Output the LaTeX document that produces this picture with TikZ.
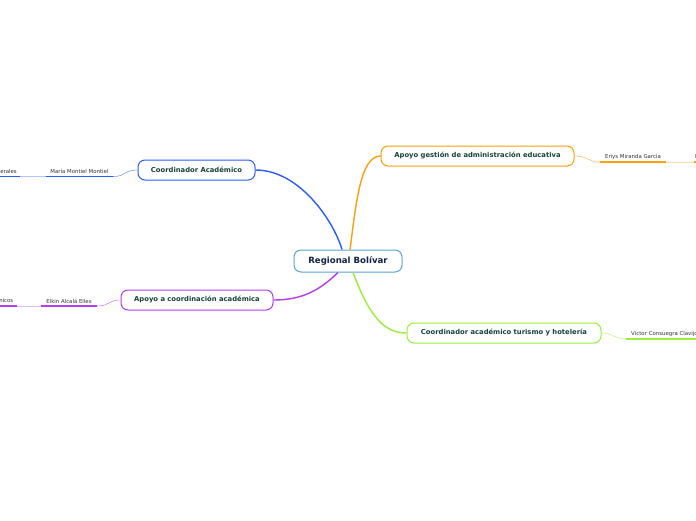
\documentclass[tikz,border=0pt]{standalone}
\usepackage{fontspec}
\setmainfont{DejaVu Sans}
\usetikzlibrary{calc}
\definecolor{cblue}{HTML}{2A5CFF}
\definecolor{corange}{HTML}{FF9F0A}
\definecolor{cpurple}{HTML}{B63CF2}
\definecolor{cgreen}{HTML}{9BEF3A}
\definecolor{ccentral}{HTML}{5BA4E0}
\definecolor{cnavy}{HTML}{12224A}
\definecolor{cteal}{HTML}{16433A}
\definecolor{cgray}{HTML}{333333}
\tikzset{
  central/.style={draw=ccentral, line width=1pt, rounded corners=7pt, fill=white,
    minimum width=108pt, minimum height=22pt, inner sep=0pt,
    font=\fontsize{8.6}{10}\selectfont\bfseries, text=cnavy},
  mainbox/.style={draw=#1, line width=1pt, rounded corners=7pt, fill=white,
    minimum height=20pt, inner sep=0pt,
    font=\fontsize{6.8}{8}\selectfont\bfseries, text=cteal},
  subtext/.style={inner sep=0pt, anchor=south, minimum height=9pt,
    font=\fontsize{5.4}{6}\selectfont, text=cgray},
  branch/.style={draw=#1, line width=1.4pt},
  twig/.style={draw=#1!60, line width=0.6pt},
  uline/.style={draw=#1, line width=1.4pt},
  faint/.style={draw=#1!35, line width=0.8pt}
}
\begin{document}
\begin{tikzpicture}[x=1pt,y=-1pt]
\useasboundingbox (0,0) rectangle (696,520);
\clip (0,0) rectangle (696,520);
\fill[white] (0,0) rectangle (696,520);

% main nodes
\node[central] (c) at (348,261) {Regional Bolívar};
\node[mainbox=cblue, minimum width=117pt] (ca) at (196.5,170) {Coordinador Académico};
\node[mainbox=cpurple, minimum width=152pt] (ac) at (197,300) {Apoyo a coordinación académica};
\node[mainbox=corange, minimum width=193pt] (ag) at (477.5,156) {Apoyo gestión de administración educativa};
\node[mainbox=cgreen, minimum width=194pt] (ct) at (504,333) {Coordinador académico turismo y hotelería};

% main connectors
\draw[branch=cblue] ([xshift=-6pt]c.north) .. controls (334,222) and (300,170) .. (ca.east);
\draw[branch=corange] ([xshift=2pt]c.north) .. controls (356,205) and (360,156) .. (ag.west);
\draw[branch=cpurple] ([xshift=-10pt]c.south) .. controls (318,292) and (300,300) .. (ac.east);
\draw[branch=cgreen] ([xshift=5pt]c.south) .. controls (370,318) and (385,333) .. (ct.west);

% sub nodes, left
\node[subtext, minimum width=67pt] (mm) at (79.5,176.5) {María Montiel Montiel};
\draw[uline=cblue] (mm.south west) -- (mm.south east);
\draw[twig=cblue] (ca.west) .. controls (124,170) and (126,176.5) .. (mm.south east);
\coordinate (dgs) at (-2,176.5);
\coordinate (dge) at (20,176.5);
\node[subtext, anchor=south east] (dg) at (17,176) {Docentes Generales};
\draw[uline=cblue] (dgs) -- (dge);
\draw[faint=cblue] (dge) -- (mm.south west);

\node[subtext, minimum width=56pt] (ea) at (69,306) {Elkin Alcalá Elles};
\draw[uline=cpurple] (ea.south west) -- (ea.south east);
\draw[twig=cpurple] (ac.west) .. controls (108,300) and (110,306) .. (ea.south east);
\coordinate (dts) at (-2,306);
\coordinate (dte) at (17,306);
\node[subtext, anchor=south east] (dt) at (13.5,305.5) {Docentes Técnicos};
\draw[uline=cpurple] (dts) -- (dte);
\draw[faint=cpurple] (dte) -- (ea.south west);

% sub nodes, right
\node[subtext, minimum width=66pt] (em) at (633,162) {Eriys Miranda Garcia};
\draw[uline=corange] (em.south west) -- (em.south east);
\draw[twig=corange] (ag.east) .. controls (588,156) and (588,162) .. (em.south west);
\node[subtext, minimum width=60pt, anchor=south west, align=left, text width=60pt] (ex) at (694,162) {\hspace{1pt}Equipo};
\draw[uline=corange] (ex.south west) -- (ex.south east);
\draw[faint=corange] (em.south east) -- (ex.south west);

\node[subtext, minimum width=72pt, anchor=south west, align=left, text width=72pt] (vc) at (626,339) {\hspace{5pt}Víctor Consuegra Clavijo};
\draw[uline=cgreen] (vc.south west) -- (vc.south east);
\draw[twig=cgreen] (ct.east) .. controls (614,333) and (614,339) .. (vc.south west);
\end{tikzpicture}
\end{document}
